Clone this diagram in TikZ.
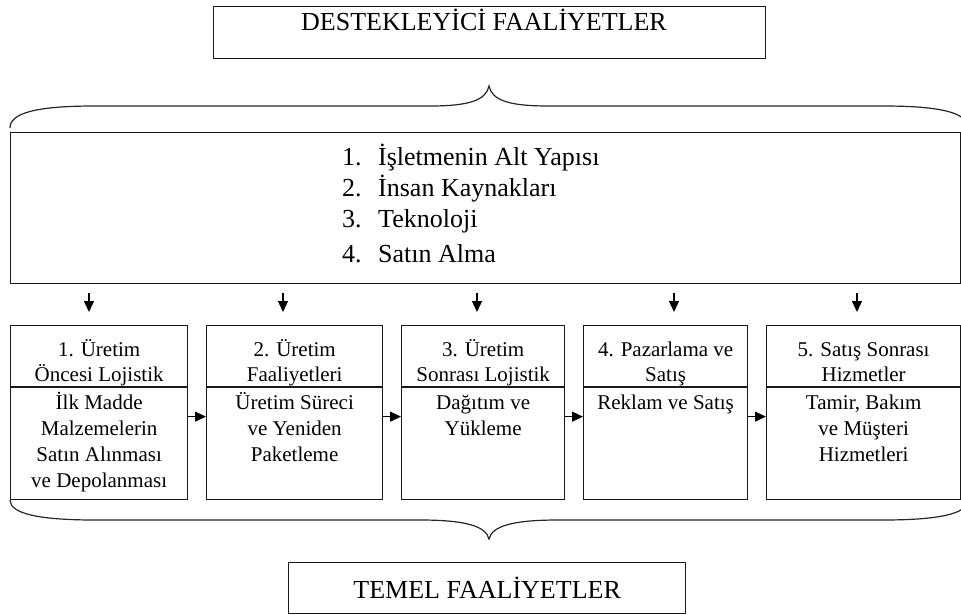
\documentclass[tikz,border=0pt]{standalone}
\usepackage{fontspec}
\setmainfont{Liberation Serif}
\usetikzlibrary{arrows.meta}
% centred stack of lines whose baseline is that of its first line
\newcommand{\stk}[1]{\begin{tabular}[t]{@{}c@{}}#1\end{tabular}}
\begin{document}
\begin{tikzpicture}[x=1pt,y=-1pt,
  frame/.style={draw=black!90, line width=1.3pt, inner sep=0pt, anchor=north west, minimum height=174pt},
  bigtxt/.style={font=\fontsize{26}{31}\selectfont, inner sep=0pt},
  headtxt/.style={font=\fontsize{21}{25}\selectfont, inner sep=0pt, anchor=base},
  bodytxt/.style={font=\fontsize{21}{26.3}\selectfont, inner sep=0pt, anchor=base},
  arr/.style={draw=black, line width=1.3pt, -{Triangle[length=11pt,width=10pt]}},
  rule/.style={draw=black!90, line width=1.3pt},
  brace/.style={draw=black!85, line width=1.2pt}]
\useasboundingbox (0,0) rectangle (961,615);
\clip (0,0) rectangle (961,615);

% support activities header
\node[frame, minimum width=552pt, minimum height=52pt] (dest) at (213,6) {};
\node[bigtxt, anchor=base] (destlbl) at (484,31) {DESTEKLEYİCİ FAALİYETLER};

% brace over the support box
\coordinate (tl) at (10,128);
\coordinate (tr) at (968,128);
\coordinate (ttip) at (489,86);
\draw[brace] (tl) .. controls (10,112) and (40,106) .. (95,106) -- (430,106)
  .. controls (470,106) and (486,100) .. (ttip)
  .. controls (492,100) and (508,106) .. (548,106) -- (883,106)
  .. controls (938,106) and (968,112) .. (tr);

% support activities list
\node[frame, minimum width=950pt, minimum height=151pt] (sup) at (10,132) {};
\node[bigtxt, anchor=base west] (list) at (342,165)
  {\begin{tabular}[t]{@{}l@{}l@{}}
   \makebox[36pt][l]{1.}&İşletmenin Alt Yapısı\\
   \makebox[36pt][l]{2.}&İnsan Kaynakları\\
   \makebox[36pt][l]{3.}&Teknoloji\\[4pt]
   \makebox[36pt][l]{4.}&Satın Alma
   \end{tabular}};

% primary activity boxes
\node[frame, minimum width=177pt] (b1) at (10,325) {};
\node[frame, minimum width=176pt] (b2) at (206,325) {};
\node[frame, minimum width=163pt] (b3) at (401,325) {};
\node[frame, minimum width=164pt] (b4) at (583,325) {};
\node[frame, minimum width=194pt] (b5) at (766,325) {};

\foreach \b in {b1,b2,b3,b4,b5}
  \draw[rule] ([yshift=-62pt]\b.north west) -- ([yshift=-62pt]\b.north east);

\node[headtxt] (t1) at ([yshift=-31pt]b1.north) {\stk{1. Üretim\\Öncesi Lojistik}};
\node[headtxt] (t2) at ([yshift=-31pt]b2.north) {\stk{2. Üretim\\Faaliyetleri}};
\node[headtxt] (t3) at ([yshift=-31pt]b3.north) {\stk{3. Üretim\\Sonrası Lojistik}};
\node[headtxt] (t4) at ([yshift=-31pt]b4.north) {\stk{4. Pazarlama ve\\Satış}};
\node[headtxt] (t5) at ([yshift=-31pt]b5.north) {\stk{5. Satış Sonrası\\Hizmetler}};

\node[bodytxt] (m1) at ([yshift=-84pt]b1.north) {\stk{İlk Madde\\Malzemelerin\\Satın Alınması\\ve Depolanması}};
\node[bodytxt] (m2) at ([yshift=-84pt]b2.north) {\stk{Üretim Süreci\\ve Yeniden\\Paketleme}};
\node[bodytxt] (m3) at ([yshift=-84pt]b3.north) {\stk{Dağıtım ve\\Yükleme}};
\node[bodytxt] (m4) at ([yshift=-84pt]b4.north) {\stk{Reklam ve Satış}};
\node[bodytxt] (m5) at ([yshift=-84pt]b5.north) {\stk{Tamir, Bakım\\ve Müşteri\\Hizmetleri}};

% arrows from the support box down to each primary box
\coordinate (a1) at (89,0);
\coordinate (a2) at (283,0);
\coordinate (a3) at (477,0);
\coordinate (a4) at (674,0);
\coordinate (a5) at (857,0);
\foreach \i in {1,...,5}
  \draw[arr, shorten <=9pt, shorten >=13pt] (sup.south -| a\i) -- (b\i.north -| a\i);

% arrows along the value chain
\draw[arr] ([yshift=-4pt]b1.east) -- ([yshift=-4pt]b2.west);
\draw[arr] ([yshift=-4pt]b2.east) -- ([yshift=-4pt]b3.west);
\draw[arr] ([yshift=-4pt]b3.east) -- ([yshift=-4pt]b4.west);
\draw[arr] ([yshift=-4pt]b4.east) -- ([yshift=-4pt]b5.west);

% brace under the primary boxes
\coordinate (bl) at (10,500);
\coordinate (br) at (968,500);
\coordinate (btip) at (489,539);
\draw[brace] (bl) .. controls (10,514) and (40,520) .. (95,520) -- (420,520)
  .. controls (465,520) and (486,526) .. (btip)
  .. controls (492,526) and (513,520) .. (558,520) -- (883,520)
  .. controls (938,520) and (968,514) .. (br);

% primary activities footer
\node[frame, minimum width=397pt, minimum height=51pt] (temel) at (288,562) {};
\node[bigtxt, anchor=center] (temellbl) at (temel.center) {TEMEL FAALİYETLER};
\end{tikzpicture}
\end{document}
